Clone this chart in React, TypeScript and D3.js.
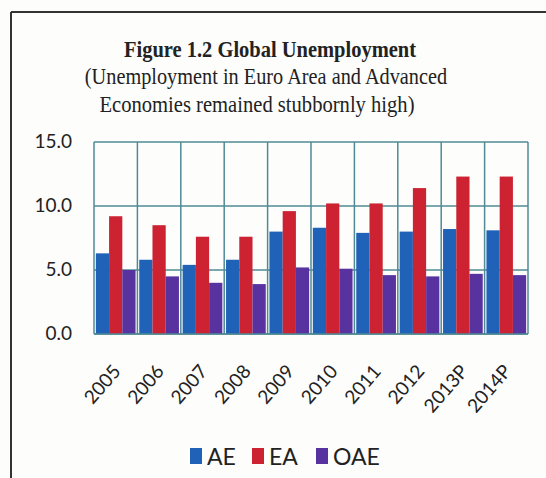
import React from "react";
import * as d3 from "d3";

const categories = ["2005", "2006", "2007", "2008", "2009", "2010", "2011", "2012", "2013P", "2014P"];
const seriesNames = ["AE", "EA", "OAE"];
const aeValues = [6.3, 5.8, 5.4, 5.8, 8.0, 8.3, 7.9, 8.0, 8.2, 8.1];
const eaValues = [9.2, 8.5, 7.6, 7.6, 9.6, 10.2, 10.2, 11.4, 12.3, 12.3];
const oaeValues = [5.0, 4.5, 4.0, 3.9, 5.2, 5.1, 4.6, 4.5, 4.7, 4.6];
const yTicks = [0, 5, 10, 15];
const colors = ["#1f62b8", "#cc2232", "#5833a0"];

const W = 546, H = 478;
const plot = { left: 94, right: 528, top: 142, bottom: 334 };

export default function App() {
  const x = d3.scaleBand<string>().domain(categories).range([plot.left, plot.right]).paddingInner(0).paddingOuter(0);
  const inner = d3.scaleBand<string>().domain(seriesNames).range([0, x.bandwidth()]).paddingInner(0).paddingOuter(0.14);
  const y = d3.scaleLinear().domain([0, 15]).range([plot.bottom, plot.top]);
  const series = [aeValues, eaValues, oaeValues];
  const grid = "#4f8a95";
  const sans = "Lato, 'Open Sans', sans-serif";
  const serif = "'Liberation Serif', 'Times New Roman', serif";

  const legendItems = [
    { name: "AE", sx: 190, tx: 207 },
    { name: "EA", sx: 252, tx: 269 },
    { name: "OAE", sx: 316, tx: 333 },
  ];

  const titleLines = [
    { text: "Figure 1.2 Global Unemployment", x: 270, y: 57, bold: true, size: 20.5 },
    { text: "(Unemployment in Euro Area and Advanced", x: 266, y: 84, bold: false, size: 20.3 },
    { text: "Economies remained stubbornly high)", x: 257, y: 112, bold: false, size: 20.6 },
  ];

  return (
    <svg width={W} height={H} style={{ position: "absolute", left: 0, top: 0 }}>
      <rect x={0} y={0} width={W} height={H} fill="#fdfdfc" />
      <line x1={11} y1={12} x2={W} y2={12} stroke="#333" strokeWidth={2} />
      <line x1={11} y1={12} x2={11} y2={H} stroke="#333" strokeWidth={2} />

      {titleLines.map((t) => (
        <text
          key={t.text}
          x={t.x}
          y={t.y}
          textAnchor="middle"
          fontFamily={serif}
          fontWeight={t.bold ? "bold" : "normal"}
          fontSize={t.size}
          fill="#222"
          transform={`translate(0 ${t.y}) scale(1 1.1) translate(0 ${-t.y})`}
        >
          {t.text}
        </text>
      ))}

      {/* gridlines */}
      {yTicks.map((t) => (
        <line key={"h" + t} x1={plot.left} x2={plot.right} y1={y(t)} y2={y(t)} stroke={grid} strokeWidth={1.5} />
      ))}
      {categories.map((c) => (
        <line key={"v" + c} x1={x(c)!} x2={x(c)!} y1={plot.top} y2={plot.bottom} stroke={grid} strokeWidth={1.5} />
      ))}
      <line x1={plot.right} x2={plot.right} y1={plot.top} y2={plot.bottom} stroke={grid} strokeWidth={1.5} />

      {/* bars */}
      {series.map((vals, si) =>
        vals.map((v, i) => (
          <rect
            key={si + "-" + i}
            x={x(categories[i])! + inner(seriesNames[si])!}
            y={y(v)}
            width={inner.bandwidth()}
            height={y(0) - y(v)}
            fill={colors[si]}
          />
        ))
      )}
      <line x1={plot.left} x2={plot.right} y1={y(0)} y2={y(0)} stroke={grid} strokeWidth={1.5} />

      {/* y labels */}
      {yTicks.map((t) => (
        <text key={"yl" + t} x={72} y={y(t) + 1} textAnchor="end" dominantBaseline="middle" fontFamily={sans} fontSize={19} fill="#222">
          {t.toFixed(1)}
        </text>
      ))}

      {/* x labels */}
      {categories.map((c) => {
        const cx = x(c)! + x.bandwidth() / 2 + 6;
        const cy = 372;
        return (
          <text key={"xl" + c} x={cx} y={cy} textAnchor="end" fontFamily={sans} fontSize={19} fill="#222" transform={`rotate(-49 ${cx} ${cy})`}>
            {c}
          </text>
        );
      })}

      {/* legend */}
      {legendItems.map((l, i) => (
        <g key={l.name}>
          <rect x={l.sx} y={448} width={12} height={16} fill={colors[i]} />
          <text x={l.tx} y={465} fontFamily={sans} fontSize={23} fill="#222">
            {l.name}
          </text>
        </g>
      ))}
    </svg>
  );
}
